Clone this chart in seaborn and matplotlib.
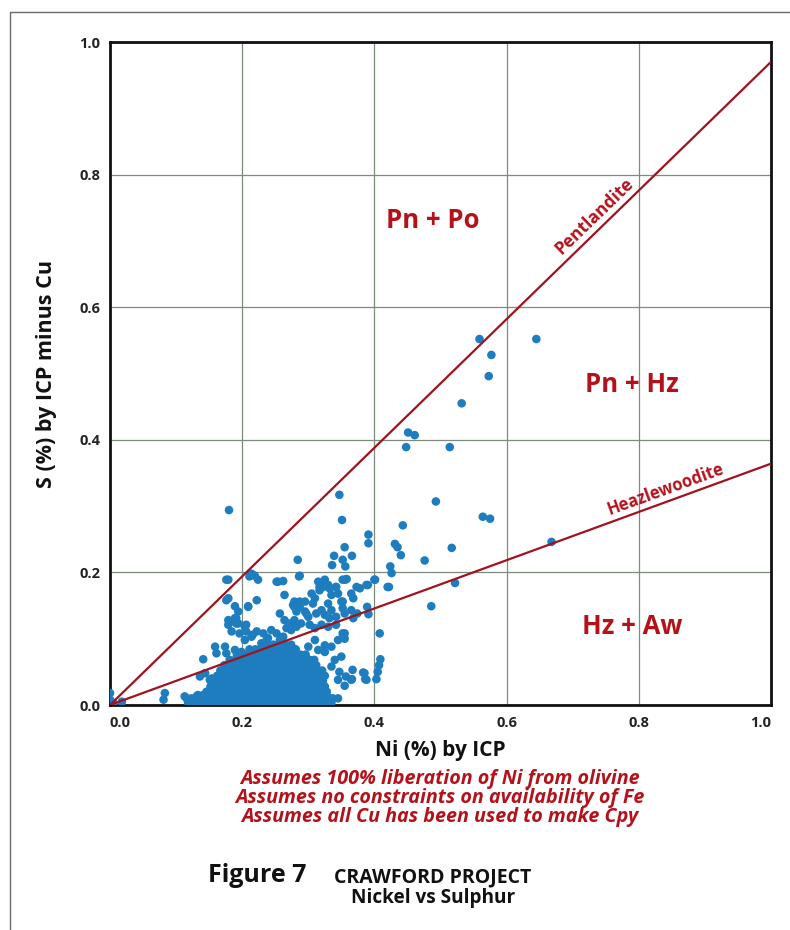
import matplotlib
matplotlib.use("Agg")
import matplotlib.pyplot as plt
import seaborn as sns
import pandas as pd
from matplotlib.patches import Rectangle

# ---------------- data ----------------
# scattered samples (Ni %, S % minus Cu)
outlier_ni = [0.559, 0.645, 0.577, 0.573, 0.532, 0.451, 0.461, 0.448, 0.514, 0.347,
              0.493, 0.351, 0.564, 0.575, 0.443, 0.391, 0.391, 0.355, 0.431, 0.435,
              0.668, 0.517, 0.339, 0.366, 0.352, 0.356, 0.336, 0.440, 0.476, 0.424,
              0.426, 0.401, 0.356, 0.390, 0.422, 0.522, 0.486, 0.342, 0.373, 0.365,
              0.368, 0.352, 0.378, 0.389, 0.391, 0.374, 0.368, 0.408, 0.409, 0.407,
              0.405, 0.403, 0.383, 0.386, 0.366, 0.355, 0.355, 0.355, 0.180, 0.284,
              0.176, 0.214, 0.219, 0.224, 0.252, 0.262, 0.286, 0.315, 0.325, 0.317,
              0.332, 0.342, 0.358, 0.388, 0.400, 0.420, 0.176, 0.189, 0.209, 0.222,
              0.264, 0.277, 0.287, 0.179, 0.189, 0.179, 0.191, 0.206, 0.206, 0.216,
              0.222, 0.232, 0.237, 0.257, 0.287, 0.297, 0.141, 0.159, 0.174, 0.161,
              0.176, 0.151, 0.136, 0.083, 0.081, 0.116, 0.131, 0.141, 0.385, 0.388,
              0.337, 0.332, 0.000, 0.000, 0.018, 0.005, 0.113, 0.123, 0.133, 0.144,
              0.154, 0.159, 0.211, 0.254, 0.287, 0.322, 0.317, 0.330, 0.352, 0.179,
              0.279, 0.295, 0.279, 0.305, 0.310, 0.307, 0.335, 0.345, 0.330, 0.350,
              0.352, 0.209, 0.179, 0.194, 0.191, 0.181, 0.194, 0.184, 0.282, 0.295,
              0.300, 0.312, 0.320, 0.325, 0.335, 0.332, 0.342, 0.355, 0.365, 0.264,
              0.272, 0.279, 0.267, 0.274, 0.262, 0.282, 0.289, 0.302, 0.310, 0.320,
              0.330, 0.342, 0.244, 0.252, 0.239, 0.204, 0.196, 0.204, 0.214, 0.352,
              0.345, 0.335, 0.325, 0.310, 0.300, 0.315, 0.325, 0.257, 0.249, 0.239,
              0.229, 0.189, 0.199, 0.350, 0.340, 0.335, 0.347, 0.345, 0.357, 0.365,
              0.367, 0.345]
outlier_s = [0.552, 0.552, 0.528, 0.496, 0.455, 0.411, 0.407, 0.389, 0.389, 0.317,
             0.307, 0.279, 0.284, 0.281, 0.271, 0.257, 0.244, 0.238, 0.243, 0.238,
             0.246, 0.237, 0.225, 0.225, 0.219, 0.209, 0.211, 0.226, 0.218, 0.209,
             0.199, 0.189, 0.189, 0.181, 0.178, 0.184, 0.149, 0.178, 0.178, 0.168,
             0.161, 0.156, 0.176, 0.148, 0.137, 0.138, 0.131, 0.108, 0.069, 0.060,
             0.050, 0.039, 0.049, 0.039, 0.039, 0.029, 0.108, 0.100, 0.294, 0.219,
             0.189, 0.198, 0.195, 0.189, 0.186, 0.187, 0.194, 0.186, 0.189, 0.178,
             0.176, 0.178, 0.190, 0.181, 0.189, 0.178, 0.158, 0.149, 0.149, 0.158,
             0.166, 0.151, 0.156, 0.128, 0.131, 0.121, 0.123, 0.121, 0.111, 0.106,
             0.111, 0.108, 0.098, 0.138, 0.148, 0.138, 0.069, 0.088, 0.088, 0.078,
             0.078, 0.038, 0.043, 0.018, 0.008, 0.010, 0.013, 0.015, 0.048, 0.038,
             0.010, 0.010, 0.018, 0.008, 0.005, 0.003, 0.013, 0.010, 0.015, 0.048,
             0.040, 0.033, 0.194, 0.186, 0.195, 0.178, 0.173, 0.181, 0.189, 0.161,
             0.156, 0.156, 0.148, 0.168, 0.161, 0.153, 0.166, 0.168, 0.153, 0.156,
             0.146, 0.148, 0.189, 0.141, 0.131, 0.126, 0.123, 0.111, 0.141, 0.141,
             0.133, 0.138, 0.143, 0.136, 0.143, 0.131, 0.133, 0.138, 0.143, 0.128,
             0.123, 0.128, 0.116, 0.113, 0.103, 0.118, 0.123, 0.121, 0.116, 0.121,
             0.118, 0.121, 0.113, 0.108, 0.101, 0.118, 0.108, 0.098, 0.103, 0.108,
             0.098, 0.088, 0.090, 0.098, 0.088, 0.083, 0.080, 0.098, 0.090, 0.088,
             0.093, 0.083, 0.080, 0.073, 0.068, 0.058, 0.050, 0.038, 0.043, 0.038,
             0.053, 0.010]

# dense core of samples, read row by row (S level, Ni values in that row)
core_s_levels = [0.004, 0.012, 0.020, 0.028, 0.036, 0.044, 0.052, 0.060, 0.068,
                 0.076, 0.084, 0.091]
core_ni_rows = [
    [0.118, 0.127, 0.136, 0.145, 0.153, 0.162, 0.170, 0.179, 0.188, 0.196, 0.205, 0.214, 0.222,
     0.231, 0.240, 0.248, 0.257, 0.266, 0.274, 0.283, 0.292, 0.300, 0.309, 0.318, 0.326, 0.335],
    [0.138, 0.147, 0.156, 0.164, 0.173, 0.182, 0.190, 0.199, 0.208, 0.216, 0.225, 0.234, 0.242,
     0.251, 0.260, 0.268, 0.277, 0.286, 0.294, 0.303, 0.312, 0.320, 0.329],
    [0.146, 0.154, 0.163, 0.172, 0.180, 0.189, 0.198, 0.206, 0.215, 0.224, 0.232, 0.241, 0.250,
     0.258, 0.267, 0.276, 0.284, 0.293, 0.302, 0.310, 0.319, 0.328],
    [0.152, 0.160, 0.169, 0.178, 0.186, 0.195, 0.204, 0.212, 0.221, 0.230, 0.238, 0.247, 0.256,
     0.264, 0.273, 0.282, 0.290, 0.299, 0.308, 0.316, 0.325],
    [0.157, 0.166, 0.175, 0.183, 0.192, 0.201, 0.209, 0.218, 0.227, 0.235, 0.244, 0.253, 0.261,
     0.270, 0.279, 0.287, 0.296, 0.305, 0.313, 0.322],
    [0.162, 0.171, 0.180, 0.188, 0.197, 0.206, 0.214, 0.223, 0.232, 0.240, 0.249, 0.258, 0.266,
     0.275, 0.284, 0.292, 0.301, 0.310, 0.318, 0.325],
    [0.167, 0.176, 0.185, 0.193, 0.202, 0.211, 0.219, 0.228, 0.237, 0.245, 0.254, 0.263, 0.271,
     0.280, 0.289, 0.297, 0.306, 0.315, 0.321],
    [0.173, 0.182, 0.190, 0.199, 0.208, 0.216, 0.225, 0.234, 0.242, 0.251, 0.260, 0.268, 0.277,
     0.286, 0.294, 0.303, 0.312],
    [0.181, 0.189, 0.198, 0.207, 0.215, 0.224, 0.233, 0.241, 0.250, 0.259, 0.267, 0.276, 0.285,
     0.293, 0.302, 0.309],
    [0.192, 0.201, 0.210, 0.218, 0.227, 0.236, 0.244, 0.253, 0.262, 0.270, 0.279, 0.288, 0.296],
    [0.211, 0.220, 0.229, 0.237, 0.246, 0.255, 0.263, 0.272, 0.281],
    [0.238, 0.247, 0.256, 0.265, 0.274],
]

# mineral ratio lines (S/Ni)
line_names = ["Pentlandite", "Heazlewoodite"]
line_slopes = [0.97, 0.364]
line_ni = [0.0, 1.0]

ticks = [0.0, 0.2, 0.4, 0.6, 0.8, 1.0]
tick_labels = ["0.0", "0.2", "0.4", "0.6", "0.8", "1.0"]

fields = ["Pn + Po", "Pn + Hz", "Hz + Aw"]
field_ni = [0.488, 0.790, 0.790]
field_s = [0.731, 0.483, 0.118]

notes = ["Assumes 100% liberation of Ni from olivine",
         "Assumes no constraints on availability of Fe",
         "Assumes all Cu has been used to make Cpy"]

# ---------------- build table ----------------
ni_all = list(outlier_ni)
s_all = list(outlier_s)
for lvl, row in zip(core_s_levels, core_ni_rows):
    ni_all += row
    s_all += [lvl] * len(row)
df = pd.DataFrame({"Ni": ni_all, "S": s_all})

lines_df = pd.DataFrame({
    "Ni": line_ni * 2,
    "S": [v * line_slopes[0] for v in line_ni] + [v * line_slopes[1] for v in line_ni],
    "line": [line_names[0]] * 2 + [line_names[1]] * 2,
})

# ---------------- style ----------------
sns.set_theme(style="white")
plt.rcParams["font.family"] = ["Open Sans", "DejaVu Sans"]

RED_LINE = "#a0121d"
RED_TEXT = "#b3121b"
BLUE = "#1d7dbf"

W, H = 790, 930
fig = plt.figure(figsize=(W / 100, H / 100), dpi=100)
fig.patch.set_facecolor("white")

# page frame (top and left visible)
fig.patches.append(Rectangle((10 / W, 0 - 0.01), 1.02, 1 - 12 / H + 0.01,
                             transform=fig.transFigure, fill=False,
                             edgecolor="#6a6a6a", lw=1.0))

ax = fig.add_axes([110 / W, 1 - 705 / H, 661 / W, 663 / H])
ax.set_xlim(0, 1.0)
ax.set_ylim(0, 1.0)

ax.grid(True, color="#7e8c7e", lw=0.9)
ax.set_axisbelow(True)

sns.scatterplot(data=df, x="Ni", y="S", ax=ax, color=BLUE, s=38,
                edgecolor="none", linewidth=0, legend=False, zorder=3)
sns.lineplot(data=lines_df, x="Ni", y="S", units="line", estimator=None,
             ax=ax, color=RED_LINE, lw=1.6, zorder=4, legend=False)

for sp in ax.spines.values():
    sp.set_color("#111111")
    sp.set_linewidth(2.0)

ax.set_xticks(ticks)
ax.set_xticklabels(tick_labels)
ax.set_yticks(ticks)
ax.set_yticklabels(tick_labels)
ax.tick_params(length=0, labelsize=10.5, colors="#222222")
ax.tick_params(axis="x", pad=8)
ax.tick_params(axis="y", pad=7)
for lab in ax.get_xticklabels() + ax.get_yticklabels():
    lab.set_fontweight("bold")
xl = ax.get_xticklabels()
xl[0].set_horizontalalignment("left")
xl[-1].set_horizontalalignment("right")

ax.set_xlabel("Ni (%) by ICP", fontsize=15, fontweight="bold", color="#111111", labelpad=7)
ax.set_ylabel("S (%) by ICP minus Cu", fontsize=15.5, fontweight="bold", color="#111111", labelpad=16)

for name, xi, yi in zip(fields, field_ni, field_s):
    ax.text(xi, yi, name, fontsize=18.5, fontweight="bold", color=RED_TEXT,
            ha="center", va="center")

ax.text(0.733, 0.738, line_names[0], fontsize=12.5, fontweight="bold", color=RED_TEXT,
        rotation=44, rotation_mode="anchor", ha="center", va="center")
ax.text(0.840, 0.326, line_names[1], fontsize=12, fontweight="bold", color=RED_TEXT,
        rotation=20, rotation_mode="anchor", ha="center", va="center")

for i, t in enumerate(notes):
    fig.text(440 / W, 1 - (779 + 19 * i) / H, t, fontsize=14.2, fontweight="bold",
             fontstyle="italic", color=RED_TEXT, ha="center", va="center")

fig.text(257 / W, 1 - 875 / H, "Figure 7", fontsize=18, fontweight="bold",
         color="#111111", ha="center", va="center")
fig.text(433 / W, 1 - 877 / H, "CRAWFORD PROJECT", fontsize=14, fontweight="bold",
         color="#111111", ha="center", va="center")
fig.text(433 / W, 1 - 898 / H, "Nickel vs Sulphur", fontsize=13.7, fontweight="bold",
         color="#111111", ha="center", va="center")

fig.savefig("out.png", dpi=100, facecolor="white")
